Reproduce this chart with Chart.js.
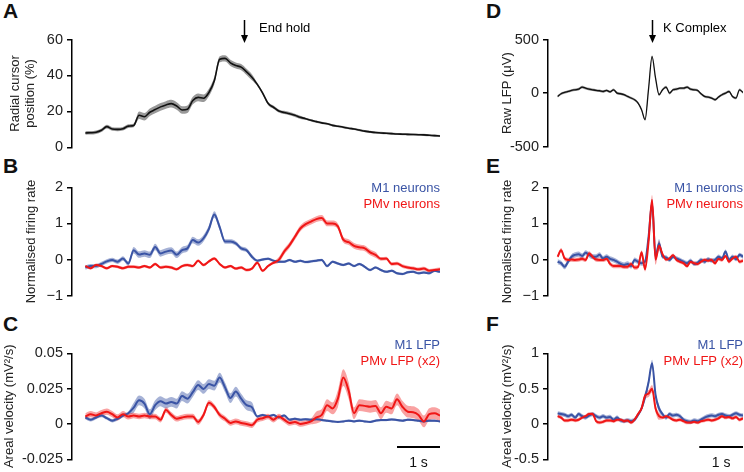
<!DOCTYPE html>
<html>
<head>
<meta charset="utf-8">
<script src="https://cdn.jsdelivr.net/npm/chart.js@4.4.1/dist/chart.umd.min.js"></script>
<style>
  body { margin: 0; background: #fff; }
  #fig { position: relative; width: 744px; height: 472px; overflow: hidden; font-family: "Liberation Sans", Arial, sans-serif; }
  #fig canvas { position: absolute; }
  .letter { position: absolute; font-weight: bold; font-size: 21px; line-height: 1; color: #111; }
</style>
</head>
<body>
<div id="fig">
  <div class="letter" style="left:3px;top:0px">A</div>
  <div class="letter" style="left:3px;top:155px">B</div>
  <div class="letter" style="left:3px;top:313px">C</div>
  <div class="letter" style="left:486px;top:0px">D</div>
  <div class="letter" style="left:486px;top:155px">E</div>
  <div class="letter" style="left:486px;top:313px">F</div>
  <canvas id="chartA" width="450" height="160" style="left:0;top:0"></canvas>
  <canvas id="chartB" width="450" height="150" style="left:0;top:160px"></canvas>
  <canvas id="chartC" width="450" height="162" style="left:0;top:310px"></canvas>
  <canvas id="chartD" width="264" height="160" style="left:480px;top:0"></canvas>
  <canvas id="chartE" width="264" height="150" style="left:480px;top:160px"></canvas>
  <canvas id="chartF" width="264" height="162" style="left:480px;top:310px"></canvas>
</div>
<script>
// ---- left column (task), sampled every 0.125 s from the start of the trace ----
const DT_LEFT = 0.125;
const END_HOLD_T = 3.7;

const cursorPos = [8.0, 8.1, 8.4, 9.5, 11.5, 10.2, 10.0, 10.3, 11.8, 12.2,
  17.8, 17.0, 19.5, 21.0, 22.5, 23.6, 24.3, 23.0, 20.8, 21.2,
  26.0, 27.8, 27.3, 30.5, 37.0, 49.0, 49.5, 47.0, 45.5, 44.6,
  42.0, 39.0, 35.0, 30.2, 24.5, 22.3, 20.2, 19.4, 18.7, 17.8,
  16.7, 15.9, 15.0, 14.3, 13.6, 13.1, 12.2, 11.7, 11.2, 10.6,
  10.2, 9.6, 9.0, 8.6, 8.2, 8.0, 7.8, 7.6, 7.4, 7.3,
  7.2, 7.1, 7.0, 6.9, 6.7, 6.5, 6.3];
const cursorSem = [1.0, 1.0, 1.0, 1.0, 1.0, 1.0, 1.0, 1.0, 1.0, 1.0,
  2.1, 2.1, 2.1, 2.1, 2.1, 2.1, 2.1, 2.1, 2.1, 2.1,
  2.1, 2.1, 2.1, 2.1, 2.1, 1.7, 1.7, 1.7, 1.7, 1.7,
  1.7, 1.7, 0.9, 0.9, 0.9, 0.9, 0.9, 0.9, 0.9, 0.9,
  0.9, 0.6, 0.6, 0.6, 0.6, 0.6, 0.6, 0.6, 0.6, 0.6,
  0.6, 0.6, 0.6, 0.6, 0.6, 0.6, 0.6, 0.6, 0.6, 0.6,
  0.6, 0.6, 0.6, 0.6, 0.6, 0.6, 0.6];

const rateM1Task = [-0.22, -0.18, -0.18, -0.12, -0.05, -0.01, -0.06, 0.03, -0.11, 0.26,
  0.14, 0.17, 0.13, 0.35, 0.17, 0.22, 0.25, 0.13, 0.26, 0.31,
  0.54, 0.47, 0.59, 0.85, 1.25, 0.9, 0.5, 0.5, 0.45, 0.31,
  0.26, 0.08, -0.03, 0.0, 0.02, -0.03, -0.06, -0.06, -0.01, -0.06,
  -0.03, -0.07, -0.05, -0.03, -0.01, -0.18, -0.06, -0.11, -0.15, -0.11,
  -0.18, -0.12, -0.2, -0.29, -0.22, -0.29, -0.34, -0.31, -0.38, -0.4,
  -0.35, -0.34, -0.38, -0.36, -0.38, -0.31, -0.34];
const rateM1TaskSem = [0.06, 0.06, 0.06, 0.06, 0.06, 0.06, 0.06, 0.06, 0.06, 0.09,
  0.09, 0.09, 0.09, 0.09, 0.09, 0.09, 0.09, 0.09, 0.09, 0.09,
  0.09, 0.09, 0.09, 0.09, 0.09, 0.09, 0.06, 0.06, 0.06, 0.06,
  0.06, 0.06, 0.035, 0.035, 0.035, 0.035, 0.035, 0.035, 0.035, 0.035,
  0.035, 0.035, 0.035, 0.035, 0.035, 0.035, 0.035, 0.035, 0.035, 0.035,
  0.035, 0.035, 0.035, 0.035, 0.035, 0.035, 0.035, 0.035, 0.035, 0.035,
  0.035, 0.035, 0.035, 0.035, 0.035, 0.035, 0.035];
const ratePMvTask = [-0.18, -0.24, -0.15, -0.18, -0.24, -0.18, -0.2, -0.24, -0.2, -0.2,
  -0.22, -0.18, -0.22, -0.12, -0.22, -0.2, -0.22, -0.27, -0.18, -0.15,
  -0.18, -0.03, -0.15, -0.05, 0.03, -0.12, -0.22, -0.18, -0.25, -0.22,
  -0.29, -0.25, -0.09, -0.31, -0.18, -0.09, -0.01, 0.22, 0.4, 0.63,
  0.86, 0.98, 1.05, 1.12, 1.15, 1.0, 1.0, 0.92, 0.55, 0.48,
  0.38, 0.34, 0.31, 0.2, 0.13, 0.02, 0.03, -0.12, -0.11, -0.18,
  -0.22, -0.24, -0.27, -0.25, -0.31, -0.29, -0.27];
const ratePMvTaskSem = [0.04, 0.04, 0.04, 0.04, 0.04, 0.04, 0.04, 0.04, 0.04, 0.04,
  0.04, 0.04, 0.04, 0.04, 0.04, 0.04, 0.04, 0.04, 0.04, 0.04,
  0.04, 0.04, 0.04, 0.04, 0.04, 0.04, 0.04, 0.04, 0.04, 0.04,
  0.04, 0.04, 0.04, 0.04, 0.04, 0.04, 0.08, 0.08, 0.08, 0.08,
  0.08, 0.08, 0.08, 0.08, 0.08, 0.08, 0.08, 0.08, 0.08, 0.08,
  0.08, 0.08, 0.08, 0.08, 0.08, 0.05, 0.05, 0.05, 0.05, 0.05,
  0.05, 0.05, 0.05, 0.05, 0.05, 0.05, 0.05];

const lfpM1Task = [0.0046, 0.0030, 0.0046, 0.0060, 0.0041, 0.0023, 0.0037, 0.0060, 0.0076, 0.0115,
  0.0167, 0.0144, 0.0069, 0.0133, 0.0161, 0.0144, 0.0156, 0.0144, 0.0197, 0.0179,
  0.0225, 0.0275, 0.0248, 0.0282, 0.0271, 0.0328, 0.0259, 0.0183, 0.0229, 0.0179,
  0.0133, 0.0119, 0.0053, 0.0064, 0.0053, 0.0064, 0.0046, 0.0060, 0.0030, 0.0037,
  0.0030, 0.0034, 0.0030, 0.0034, 0.0028, 0.0023, 0.0018, 0.0014, 0.0018, 0.0023,
  0.0018, 0.0023, 0.0018, 0.0014, 0.0023, 0.0028, 0.0028, 0.0032, 0.0028, 0.0023,
  0.0030, 0.0028, 0.0023, 0.0018, 0.0023, 0.0023, 0.0018];
const lfpM1TaskSem = [0.0012, 0.0012, 0.0012, 0.0012, 0.0012, 0.0012, 0.0012, 0.0012, 0.0012, 0.0035,
  0.0035, 0.0035, 0.0035, 0.0035, 0.0035, 0.0035, 0.0035, 0.0035, 0.0035, 0.0035,
  0.0035, 0.0035, 0.0035, 0.0035, 0.0035, 0.0035, 0.0035, 0.0035, 0.0035, 0.0035,
  0.0035, 0.0035, 0.0008, 0.0008, 0.0008, 0.0008, 0.0008, 0.0008, 0.0008, 0.0008,
  0.0008, 0.0008, 0.0008, 0.0008, 0.0008, 0.0008, 0.0008, 0.0008, 0.0008, 0.0008,
  0.0008, 0.0008, 0.0008, 0.0008, 0.0008, 0.0008, 0.0008, 0.0008, 0.0008, 0.0008,
  0.0008, 0.0008, 0.0008, 0.0008, 0.0008, 0.0008, 0.0008];
const lfpPMvTask = [0.0053, 0.0069, 0.0060, 0.0076, 0.0087, 0.0069, 0.0046, 0.0069, 0.0053, 0.0060,
  0.0053, 0.0060, 0.0053, 0.0053, 0.0030, 0.0099, 0.0064, 0.0037, 0.0046, 0.0053,
  0.0053, 0.0014, 0.0064, 0.0150, 0.0120, 0.0064, 0.0037, 0.0007, 0.0018, 0.0007,
  0.0000, -0.0009, 0.0030, 0.0041, 0.0053, 0.0030, 0.0053, 0.0030, 0.0007, 0.0014,
  0.0000, 0.0007, 0.0018, 0.0046, 0.0064, 0.0133, 0.0110, 0.0179, 0.0328, 0.0236,
  0.0076, 0.0133, 0.0128, 0.0122, 0.0128, 0.0076, 0.0122, 0.0110, 0.0174, 0.0122,
  0.0087, 0.0083, 0.0064, 0.0018, 0.0069, 0.0076, 0.0060];
const lfpPMvTaskSem = [0.0022, 0.0022, 0.0022, 0.0022, 0.0022, 0.0022, 0.0022, 0.0022, 0.0022, 0.002,
  0.002, 0.002, 0.002, 0.002, 0.002, 0.002, 0.002, 0.002, 0.002, 0.002,
  0.002, 0.002, 0.002, 0.002, 0.002, 0.002, 0.002, 0.002, 0.002, 0.002,
  0.002, 0.002, 0.002, 0.002, 0.002, 0.002, 0.002, 0.002, 0.002, 0.002,
  0.002, 0.002, 0.002, 0.0042, 0.0042, 0.0042, 0.0042, 0.006, 0.006, 0.006,
  0.0042, 0.0042, 0.0042, 0.0042, 0.0042, 0.0042, 0.0042, 0.0042, 0.0042, 0.0042,
  0.0042, 0.0042, 0.0042, 0.0042, 0.0042, 0.0042, 0.0042];

// ---- right column (sleep, K complex), sampled every 0.08 s, K complex at t = 0 ----
const T0_RIGHT = -2.16;
const DT_RIGHT = 0.08;

const rawLfp = [-31, -6, 6, 15, 25, 31, 37, 56, 46, 37,
  31, 25, 22, 15, 25, 12, 31, 0, -6, -15,
  -31, -46, -62, -93, -155, -247, 40, 340, 139, -15,
  31, 56, 0, 31, 37, 46, 46, 56, 37, 31,
  25, -6, -31, -37, -46, -62, -37, -15, 0, 15,
  -31, -46, 31, 6];
const rawLfpSem = [12, 12, 12, 12, 12, 12, 12, 12, 12, 12,
  12, 12, 12, 12, 12, 12, 12, 12, 12, 12,
  12, 12, 12, 12, 12, 12, 12, 12, 12, 12,
  12, 12, 12, 12, 12, 12, 12, 12, 12, 12,
  12, 12, 12, 12, 12, 12, 12, 12, 12, 12,
  12, 12, 12, 12];

const rateM1Sleep = [-0.06, -0.1, -0.2, -0.06, 0.08, 0.13, 0.15, 0.1, 0.19, 0.13,
  0.08, 0.08, 0.13, 0.03, 0.08, 0.02, -0.01, -0.06, -0.12, -0.15,
  -0.12, -0.18, -0.01, -0.06, -0.1, -0.06, 0.63, 1.56, 0.08, 0.45,
  0.08, 0.06, -0.01, 0.08, 0.03, -0.01, -0.06, -0.1, -0.03, -0.12,
  -0.09, -0.01, -0.06, 0.01, -0.03, -0.01, 0.08, 0.03, 0.22, -0.01,
  0.08, 0.01, 0.13, 0.08];
const rateM1SleepSem = [0.07, 0.07, 0.07, 0.07, 0.07, 0.07, 0.07, 0.07, 0.07, 0.07,
  0.07, 0.07, 0.07, 0.07, 0.07, 0.07, 0.07, 0.07, 0.07, 0.07,
  0.07, 0.07, 0.07, 0.07, 0.07, 0.07, 0.12, 0.12, 0.12, 0.12,
  0.06, 0.06, 0.06, 0.06, 0.06, 0.06, 0.06, 0.06, 0.06, 0.06,
  0.06, 0.06, 0.06, 0.06, 0.06, 0.06, 0.06, 0.06, 0.06, 0.06,
  0.06, 0.06, 0.06, 0.06];
const ratePMvSleep = [0.08, 0.26, 0.03, -0.01, 0.0, -0.01, 0.0, 0.02, -0.01, 0.17,
  0.08, 0.0, -0.01, -0.01, 0.02, -0.12, -0.18, -0.18, -0.18, -0.2,
  -0.2, -0.12, -0.22, -0.2, 0.2, -0.27, 0.5, 1.65, 0.0, 0.38,
  0.15, 0.0, 0.03, 0.12, -0.01, -0.06, -0.1, -0.18, -0.06, -0.1,
  -0.12, -0.06, -0.01, -0.03, -0.01, -0.1, 0.02, -0.01, 0.1, -0.06,
  0.03, 0.08, -0.06, -0.03];
const ratePMvSleepSem = [0.06, 0.06, 0.06, 0.06, 0.06, 0.06, 0.06, 0.06, 0.06, 0.06,
  0.06, 0.06, 0.06, 0.06, 0.06, 0.06, 0.06, 0.06, 0.06, 0.06,
  0.06, 0.06, 0.06, 0.06, 0.06, 0.06, 0.14, 0.14, 0.14, 0.14,
  0.05, 0.05, 0.05, 0.05, 0.05, 0.05, 0.05, 0.05, 0.05, 0.05,
  0.05, 0.05, 0.05, 0.05, 0.05, 0.05, 0.05, 0.05, 0.05, 0.05,
  0.05, 0.05, 0.05, 0.05];

const lfpM1Sleep = [0.15, 0.14, 0.13, 0.11, 0.13, 0.09, 0.14, 0.11, 0.09, 0.12,
  0.14, 0.11, 0.09, 0.11, 0.09, 0.1, 0.06, 0.09, 0.05, 0.04,
  0.05, 0.04, 0.06, 0.13, 0.22, 0.38, 0.59, 0.86, 0.41, 0.22,
  0.14, 0.09, 0.14, 0.12, 0.13, 0.11, 0.06, 0.04, 0.03, 0.05,
  0.04, 0.06, 0.09, 0.11, 0.12, 0.11, 0.13, 0.14, 0.12, 0.11,
  0.13, 0.15, 0.13, 0.12];
const lfpM1SleepSem = [0.03, 0.03, 0.03, 0.03, 0.03, 0.03, 0.03, 0.03, 0.03, 0.03,
  0.03, 0.03, 0.03, 0.03, 0.03, 0.03, 0.03, 0.03, 0.03, 0.03,
  0.03, 0.03, 0.03, 0.03, 0.03, 0.05, 0.05, 0.05, 0.05, 0.05,
  0.03, 0.03, 0.03, 0.03, 0.03, 0.03, 0.03, 0.03, 0.03, 0.03,
  0.03, 0.03, 0.03, 0.03, 0.03, 0.03, 0.03, 0.03, 0.03, 0.03,
  0.03, 0.03, 0.03, 0.03];
const lfpPMvSleep = [0.11, 0.09, 0.05, 0.05, 0.06, 0.05, 0.06, 0.09, 0.11, 0.14,
  0.14, 0.04, 0.02, 0.03, 0.05, 0.05, 0.04, 0.06, 0.06, 0.04,
  0.05, 0.02, 0.06, 0.14, 0.22, 0.4, 0.43, 0.5, 0.22, 0.11,
  0.09, 0.11, 0.09, 0.06, 0.05, 0.06, 0.04, 0.02, 0.02, 0.03,
  0.02, 0.04, 0.05, 0.06, 0.05, 0.06, 0.08, 0.11, 0.09, 0.1,
  0.08, 0.1, 0.06, 0.08];
const lfpPMvSleepSem = [0.025, 0.025, 0.025, 0.025, 0.025, 0.025, 0.025, 0.025, 0.025, 0.025,
  0.025, 0.025, 0.025, 0.025, 0.025, 0.025, 0.025, 0.025, 0.025, 0.025,
  0.025, 0.025, 0.025, 0.025, 0.025, 0.05, 0.05, 0.05, 0.05, 0.05,
  0.025, 0.025, 0.025, 0.025, 0.025, 0.025, 0.025, 0.025, 0.025, 0.025,
  0.025, 0.025, 0.025, 0.025, 0.025, 0.025, 0.025, 0.025, 0.025, 0.025,
  0.025, 0.025, 0.025, 0.025];

// ---- axis ticks ----
const ticksA = [0, 20, 40, 60];        const labelsA = ['0', '20', '40', '60'];
const ticksRate = [-1, 0, 1, 2];      const labelsRate = ['\u22121', '0', '1', '2'];
const ticksC = [-0.025, 0, 0.025, 0.05]; const labelsC = ['-0.025', '0', '0.025', '0.05'];
const ticksD = [-500, 0, 500];        const labelsD = ['-500', '0', '500'];
const ticksF = [-0.5, 0, 0.5, 1];     const labelsF = ['-0.5', '0', '0.5', '1'];

const tLeft = cursorPos.map((_, i) => i * DT_LEFT);
const tRight = rawLfp.map((_, i) => T0_RIGHT + i * DT_RIGHT);

const FONT = '"Liberation Sans", Arial, sans-serif';
const BLUE = '#3a54a5', BLUE_BAND = 'rgba(58,84,165,0.45)';
const RED = '#f01616', RED_BAND = 'rgba(240,22,22,0.4)';
const BLACK = '#111', GREY_BAND = 'rgba(0,0,0,0.4)';

Chart.defaults.font.family = FONT;

// band (mean +/- sem) plus mean line
function series(times, mean, sem, color, band, order, width) {
  const common = { pointRadius: 0, cubicInterpolationMode: 'monotone' };
  return [
    { ...common, data: times.map((t, i) => ({ x: t, y: mean[i] + sem[i] })),
      borderColor: 'transparent', borderWidth: 0, backgroundColor: band, fill: '+1', order: order + 10 },
    { ...common, data: times.map((t, i) => ({ x: t, y: mean[i] - sem[i] })),
      borderColor: 'transparent', borderWidth: 0, fill: false, order: order + 10 },
    { ...common, data: times.map((t, i) => ({ x: t, y: mean[i] })),
      borderColor: color, borderWidth: width, fill: false, order, borderJoinStyle: 'round' }
  ];
}

function overlay(cfg) {
  return {
    id: 'overlay',
    afterDraw(chart) {
      const ctx = chart.ctx, xs = chart.scales.x, area = chart.chartArea;
      ctx.save();
      ctx.font = '13px ' + FONT;
      ctx.textBaseline = 'alphabetic';
      (cfg.legend || []).forEach(l => {
        ctx.fillStyle = l.color;
        ctx.textAlign = 'right';
        ctx.fillText(l.text, area.right, l.y);
      });
      if (cfg.mark) {
        const px = Math.round(xs.getPixelForValue(cfg.mark.t)) + 0.5;
        ctx.strokeStyle = '#000';
        ctx.fillStyle = '#000';
        ctx.lineWidth = 1.5;
        ctx.beginPath(); ctx.moveTo(px, 20); ctx.lineTo(px, 37); ctx.stroke();
        ctx.beginPath(); ctx.moveTo(px - 3.5, 35); ctx.lineTo(px + 3.5, 35); ctx.lineTo(px, 43); ctx.closePath(); ctx.fill();
        ctx.textAlign = 'left';
        ctx.fillText(cfg.mark.text, px + cfg.mark.dx, 31.5);
      }
      if (cfg.bar) {
        const x0 = xs.getPixelForValue(xs.max - 1), x1 = xs.getPixelForValue(xs.max);
        ctx.strokeStyle = '#000';
        ctx.lineWidth = 2;
        ctx.beginPath(); ctx.moveTo(x0, cfg.bar.y); ctx.lineTo(x1, cfg.bar.y); ctx.stroke();
        ctx.fillStyle = '#111';
        ctx.font = '14px ' + FONT;
        ctx.textAlign = 'center';
        ctx.fillText('1 s', (x0 + x1) / 2, cfg.bar.textY);
      }
      ctx.restore();
    }
  };
}

function makeChart(id, cfg) {
  return new Chart(document.getElementById(id), {
    type: 'line',
    data: { datasets: cfg.datasets },
    options: {
      responsive: false,
      animation: false,
      events: [],
      layout: { padding: cfg.padding },
      plugins: { legend: { display: false }, tooltip: { enabled: false } },
      scales: {
        x: { type: 'linear', display: false, min: cfg.xMin, max: cfg.xMax },
        y: {
          min: cfg.ticks[0],
          max: cfg.ticks[cfg.ticks.length - 1],
          afterBuildTicks: s => { s.ticks = cfg.ticks.map(v => ({ value: v })); },
          afterFit: s => { s.width = cfg.axisWidth; },
          ticks: {
            autoSkip: false,
            padding: 4,
            color: '#222',
            font: { size: 14.5 },
            callback: v => cfg.labels[cfg.ticks.indexOf(v)]
          },
          grid: { drawOnChartArea: false, drawTicks: true, tickLength: 5, color: '#000', lineWidth: 1.5 },
          border: { display: true, color: '#000', width: 1.5 },
          title: {
            display: true,
            text: cfg.title,
            color: '#222',
            font: { size: 13, lineHeight: 1.2 },
            padding: { top: cfg.titlePad, bottom: 0 }
          }
        }
      }
    },
    plugins: [overlay(cfg)]
  });
}

const LEFT_X = { xMin: -0.31, xMax: 8.25, axisWidth: 72 };
const RIGHT_X = { xMin: -2.38, xMax: 2.08, axisWidth: 68 };

makeChart('chartA', {
  ...LEFT_X,
  padding: { left: 0, right: 10, top: 39.5, bottom: 12.3 },
  ticks: ticksA, labels: labelsA,
  title: ['Radial cursor', 'position (%)'], titlePad: 7.2,
  datasets: series(tLeft, cursorPos, cursorSem, BLACK, GREY_BAND, 0, 1.6),
  mark: { t: END_HOLD_T, text: 'End hold', dx: 14.5 }
});

makeChart('chartB', {
  ...LEFT_X,
  padding: { left: 0, right: 10, top: 27.3, bottom: 14.3 },
  ticks: ticksRate, labels: labelsRate,
  title: 'Normalised firing rate', titlePad: 23.2,
  datasets: [
    ...series(tLeft, ratePMvTask, ratePMvTaskSem, RED, RED_BAND, 0, 2),
    ...series(tLeft, rateM1Task, rateM1TaskSem, BLUE, BLUE_BAND, 1, 2)
  ],
  legend: [
    { text: 'M1 neurons', color: BLUE, y: 32.3 },
    { text: 'PMv neurons', color: RED, y: 48.3 }
  ]
});

makeChart('chartC', {
  ...LEFT_X,
  padding: { left: 0, right: 10, top: 43.3, bottom: 9.7 },
  ticks: ticksC, labels: labelsC,
  title: 'Areal velocity (mV\u00b2/s)', titlePad: 1.2,
  datasets: [
    ...series(tLeft, lfpPMvTask, lfpPMvTaskSem, RED, RED_BAND, 0, 2),
    ...series(tLeft, lfpM1Task, lfpM1TaskSem, BLUE, BLUE_BAND, 1, 2)
  ],
  legend: [
    { text: 'M1 LFP', color: BLUE, y: 39 },
    { text: 'PMv LFP (x2)', color: RED, y: 55 }
  ],
  bar: { y: 137, textY: 157 }
});

makeChart('chartD', {
  ...RIGHT_X,
  padding: { left: 0, right: 1, top: 39.5, bottom: 13.3 },
  ticks: ticksD, labels: labelsD,
  title: 'Raw LFP (\u03bcV)', titlePad: 19.2,
  datasets: series(tRight, rawLfp, rawLfpSem, BLACK, GREY_BAND, 0, 1.3),
  mark: { t: 0, text: 'K Complex', dx: 10.5 }
});

makeChart('chartE', {
  ...RIGHT_X,
  padding: { left: 0, right: 1, top: 27.3, bottom: 14.3 },
  ticks: ticksRate, labels: labelsRate,
  title: 'Normalised firing rate', titlePad: 19.2,
  datasets: [
    ...series(tRight, ratePMvSleep, ratePMvSleepSem, RED, RED_BAND, 0, 2),
    ...series(tRight, rateM1Sleep, rateM1SleepSem, BLUE, BLUE_BAND, 1, 2)
  ],
  legend: [
    { text: 'M1 neurons', color: BLUE, y: 32.3 },
    { text: 'PMv neurons', color: RED, y: 48.3 }
  ]
});

makeChart('chartF', {
  ...RIGHT_X,
  padding: { left: 0, right: 1, top: 43.3, bottom: 9.3 },
  ticks: ticksF, labels: labelsF,
  title: 'Areal velocity (mV\u00b2/s)', titlePad: 19.2,
  datasets: [
    ...series(tRight, lfpPMvSleep, lfpPMvSleepSem, RED, RED_BAND, 0, 2),
    ...series(tRight, lfpM1Sleep, lfpM1SleepSem, BLUE, BLUE_BAND, 1, 2)
  ],
  legend: [
    { text: 'M1 LFP', color: BLUE, y: 39 },
    { text: 'PMv LFP (x2)', color: RED, y: 55 }
  ],
  bar: { y: 137, textY: 157 }
});
</script>
</body>
</html>
